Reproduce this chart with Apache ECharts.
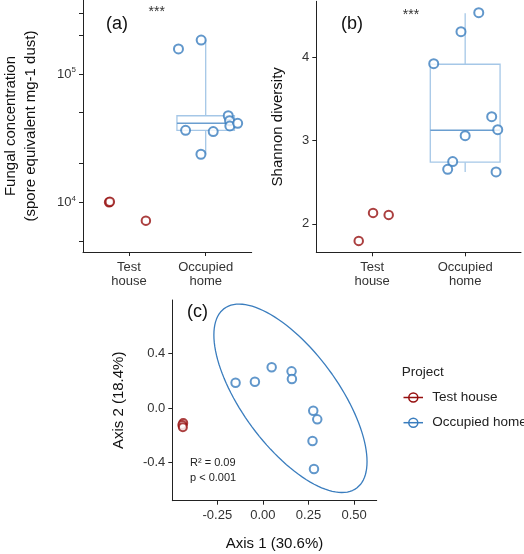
<!DOCTYPE html>
<html>
<head>
<meta charset="utf-8">
<script src="https://cdn.jsdelivr.net/npm/echarts@6/dist/echarts.min.js"></script>
<style>html,body{margin:0;padding:0;background:#fff;}#c{width:524px;height:554px;}</style>
</head>
<body>
<div id="c"></div>
<script>
// ---------- data ----------
const categories = ['Test\nhouse', 'Occupied\nhome'];
const groups = ['Test house', 'Occupied home'];

// (a) fungal concentration (spore equivalent / mg dust)
const fungalTest = [10000, 10100, 7200];
const fungalTestJitter = [0.74, 0.75, 1.22];
const fungalOcc = [157000, 184000, 36400, 35600, 23700, 47300, 43300, 39400, 41300];
const fungalOccJitter = [1.645, 1.941, 1.738, 2.098, 1.938, 2.294, 2.311, 2.315, 2.417];
const fungalOccBox = [23700, 36400, 41300, 47300, 184000]; // min, q1, median, q3, max
const fungalTicks = [10000, 100000];
const fungalMinorTicks = [5000, 10000, 20000, 50000, 100000, 200000, 300000];

// (b) Shannon diversity
const shannonTest = [1.795, 2.131, 2.107];
const shannonTestJitter = [0.856, 1.01, 1.178];
const shannonOcc = [4.535, 4.307, 3.923, 3.287, 3.131, 3.059, 2.747, 2.655, 2.623];
const shannonOccJitter = [2.146, 1.955, 1.662, 2.285, 2.35, 2.0, 1.866, 1.812, 2.332];
const shannonOccBox = [2.623, 2.74, 3.124, 3.916, 4.528];
const shannonTicks = [2, 3, 4];

// (c) ordination
const ordTestAxis1 = [-0.437, -0.442, -0.439];
const ordTestAxis2 = [-0.11, -0.125, -0.14];
const ordOccAxis1 = [-0.150, -0.044, 0.048, 0.157, 0.159, 0.276, 0.298, 0.272, 0.280];
const ordOccAxis2 = [0.185, 0.192, 0.298, 0.268, 0.212, -0.020, -0.083, -0.241, -0.446];
const ordTicksX = [-0.25, 0, 0.25, 0.5];
const ordTicksY = [-0.4, 0, 0.4];
// ellipse of occupied homes: centre and shape (Cholesky factor)
const ellipseCenter = [0.151, 0.071];
const ellipseShape = [[0.42, 0], [-0.463, 0.5104]];
const statsText = ['R² = 0.09', 'p < 0.001'];

// ---------- styles ----------
const RED = '#960F0F';
const BLUE = '#3A7DBE';
const BOX = '#A5C7E7';
const MED = '#6A9ED0';
const FONT = 'Liberation Sans, Arial, sans-serif';
const AX = '#222';

const zip = (xs, ys) => xs.map((x, i) => [x, ys[i]]);

function ellipsePts() {
  const pts = [];
  const n = 120;
  for (let i = 0; i <= n; i++) {
    const t = 2 * Math.PI * i / n;
    const c = Math.cos(t), s = Math.sin(t);
    pts.push([
      ellipseCenter[0] + ellipseShape[0][0] * c + ellipseShape[0][1] * s,
      ellipseCenter[1] + ellipseShape[1][0] * c + ellipseShape[1][1] * s
    ]);
  }
  return pts;
}

function renderBox(params, api) {
  const x = api.value(0);
  const vals = [1, 2, 3, 4, 5].map(i => api.value(i));
  const L = api.coord([x - 0.375, vals[2]])[0];
  const R = api.coord([x + 0.375, vals[2]])[0];
  const cx = api.coord([x, vals[2]])[0];
  const y = vals.map(v => api.coord([x, v])[1]);
  return {
    type: 'group',
    children: [
      { type: 'line', shape: { x1: cx, y1: y[0], x2: cx, y2: y[1] }, style: { stroke: BOX, lineWidth: 1.3 } },
      { type: 'line', shape: { x1: cx, y1: y[3], x2: cx, y2: y[4] }, style: { stroke: BOX, lineWidth: 1.3 } },
      { type: 'rect', shape: { x: L, y: y[3], width: R - L, height: y[1] - y[3] }, style: { stroke: BOX, fill: 'rgba(255,255,255,0.5)', lineWidth: 1.3 } },
      { type: 'line', shape: { x1: L, y1: y[2], x2: R, y2: y[2] }, style: { stroke: MED, lineWidth: 1.6 } }
    ]
  };
}

const axisLineStyle = { show: true, onZero: false, lineStyle: { color: AX, width: 1 } };
const tickStyle = { show: true, length: 4, lineStyle: { color: AX, width: 1 } };
const labelStyle = { color: '#333', fontSize: 13, fontFamily: FONT };
const nameStyle = { color: '#111', fontSize: 15, fontFamily: FONT };
const catFormatter = v => (Math.abs(v - 1) < 1e-6 ? categories[0] : categories[1]);

const option = {
  animation: false,
  backgroundColor: '#fff',
  grid: [
    { left: 79, top: 0, width: 172.7, height: 252 },
    { left: 316.3, top: 1.3, width: 204.7, height: 251 },
    { left: 172.3, top: 300, width: 204.4, height: 200.7 }
  ],
  xAxis: [
    { gridIndex: 0, type: 'value', min: 0.4, max: 2.6, splitLine: { show: false },
      axisLine: axisLineStyle, axisTick: Object.assign({ customValues: [1, 2] }, tickStyle),
      axisLabel: Object.assign({ customValues: [1, 2], formatter: catFormatter, lineHeight: 14, margin: 8 }, labelStyle) },
    { gridIndex: 1, type: 'value', min: 0.4, max: 2.6, splitLine: { show: false },
      axisLine: axisLineStyle, axisTick: Object.assign({ customValues: [1, 2] }, tickStyle),
      axisLabel: Object.assign({ customValues: [1, 2], formatter: catFormatter, lineHeight: 14, margin: 8 }, labelStyle) },
    { gridIndex: 2, type: 'value', min: -0.497, max: 0.624, splitLine: { show: false },
      axisLine: axisLineStyle, axisTick: Object.assign({ customValues: ordTicksX }, tickStyle),
      axisLabel: Object.assign({ customValues: ordTicksX, formatter: v => v.toFixed(2), margin: 8 }, labelStyle),
      name: 'Axis 1 (30.6%)', nameLocation: 'middle', nameGap: 36, nameTextStyle: nameStyle }
  ],
  yAxis: [
    { gridIndex: 0, type: 'log', logBase: 10, min: 4100, max: 377600, splitLine: { show: false },
      axisLine: axisLineStyle, axisTick: Object.assign({ customValues: fungalMinorTicks }, tickStyle),
      axisLabel: Object.assign({ customValues: fungalTicks, margin: 7,
        formatter: v => '10{s|' + Math.round(Math.log10(v)) + '}',
        rich: { s: { fontSize: 8, color: '#333', fontFamily: FONT, verticalAlign: 'top', padding: [0, 0, 8, 0] } } }, labelStyle),
      name: 'Fungal concentration\n(spore equivalent mg-1 dust)', nameLocation: 'middle', nameGap: 42,
      nameTextStyle: Object.assign({ lineHeight: 20 }, nameStyle) },
    { gridIndex: 1, type: 'value', min: 1.658, max: 4.672, splitLine: { show: false },
      axisLine: axisLineStyle, axisTick: Object.assign({ customValues: shannonTicks }, tickStyle),
      axisLabel: Object.assign({ customValues: shannonTicks, margin: 7 }, labelStyle),
      name: 'Shannon diversity', nameLocation: 'middle', nameGap: 31, nameTextStyle: nameStyle },
    { gridIndex: 2, type: 'value', min: -0.678, max: 0.79, splitLine: { show: false },
      axisLine: axisLineStyle, axisTick: Object.assign({ customValues: ordTicksY }, tickStyle),
      axisLabel: Object.assign({ customValues: ordTicksY, formatter: v => v.toFixed(1), margin: 7 }, labelStyle),
      name: 'Axis 2 (18.4%)', nameLocation: 'middle', nameGap: 46, nameTextStyle: nameStyle }
  ],
  series: [
    { type: 'custom', xAxisIndex: 0, yAxisIndex: 0, renderItem: renderBox, data: [[2].concat(fungalOccBox)], z: 1 },
    { type: 'custom', xAxisIndex: 1, yAxisIndex: 1, renderItem: renderBox, data: [[2].concat(shannonOccBox)], z: 1 },
    { name: groups[0], type: 'scatter', xAxisIndex: 0, yAxisIndex: 0, data: zip(fungalTestJitter, fungalTest),
      symbol: 'emptyCircle', symbolSize: 8.5, itemStyle: { color: RED, borderColor: RED, borderWidth: 2 }, z: 3 },
    { name: groups[1], type: 'scatter', xAxisIndex: 0, yAxisIndex: 0, data: zip(fungalOccJitter, fungalOcc),
      symbol: 'emptyCircle', symbolSize: 9, itemStyle: { color: BLUE, borderColor: BLUE, borderWidth: 2 }, z: 3 },
    { name: groups[0], type: 'scatter', xAxisIndex: 1, yAxisIndex: 1, data: zip(shannonTestJitter, shannonTest),
      symbol: 'emptyCircle', symbolSize: 8.5, itemStyle: { color: RED, borderColor: RED, borderWidth: 1.6 }, z: 3 },
    { name: groups[1], type: 'scatter', xAxisIndex: 1, yAxisIndex: 1, data: zip(shannonOccJitter, shannonOcc),
      symbol: 'emptyCircle', symbolSize: 9, itemStyle: { color: BLUE, borderColor: BLUE, borderWidth: 2 }, z: 3 },
    { type: 'line', xAxisIndex: 2, yAxisIndex: 2, data: ellipsePts(), showSymbol: false, symbol: 'none',
      lineStyle: { color: BLUE, width: 1.3 }, z: 2, silent: true },
    { name: groups[0], type: 'scatter', xAxisIndex: 2, yAxisIndex: 2, data: zip(ordTestAxis1, ordTestAxis2),
      symbol: 'emptyCircle', symbolSize: 8, itemStyle: { color: RED, borderColor: RED, borderWidth: 1.6 }, z: 3 },
    { name: groups[1], type: 'scatter', xAxisIndex: 2, yAxisIndex: 2, data: zip(ordOccAxis1, ordOccAxis2),
      symbol: 'emptyCircle', symbolSize: 8.5, itemStyle: { color: BLUE, borderColor: BLUE, borderWidth: 1.5 }, z: 3 }
  ],
  graphic: [
    { type: 'text', x: 117, y: 24, style: { text: '(a)', fontSize: 18, fontFamily: FONT, fill: '#111', align: 'center', verticalAlign: 'middle' } },
    { type: 'text', x: 156.7, y: 5, style: { text: '***', fontSize: 14, fontFamily: FONT, fill: '#333', align: 'center', verticalAlign: 'top' } },
    { type: 'text', x: 352, y: 24, style: { text: '(b)', fontSize: 18, fontFamily: FONT, fill: '#111', align: 'center', verticalAlign: 'middle' } },
    { type: 'text', x: 411, y: 8, style: { text: '***', fontSize: 14, fontFamily: FONT, fill: '#333', align: 'center', verticalAlign: 'top' } },
    { type: 'text', x: 197.5, y: 311.7, style: { text: '(c)', fontSize: 18, fontFamily: FONT, fill: '#111', align: 'center', verticalAlign: 'middle' } },
    { type: 'text', x: 190, y: 462.7, style: { text: statsText[0], fontSize: 11, fontFamily: FONT, fill: '#222', align: 'left', verticalAlign: 'middle' } },
    { type: 'text', x: 190, y: 477.7, style: { text: statsText[1], fontSize: 11, fontFamily: FONT, fill: '#222', align: 'left', verticalAlign: 'middle' } },
    // legend
    { type: 'text', x: 401.7, y: 372.5, style: { text: 'Project', fontSize: 13.5, fontFamily: FONT, fill: '#222', align: 'left', verticalAlign: 'middle' } },
    { type: 'line', shape: { x1: 403.5, y1: 397.5, x2: 423, y2: 397.5 }, style: { stroke: RED, lineWidth: 1.5 } },
    { type: 'circle', shape: { cx: 413.3, cy: 397.5, r: 4.5 }, style: { stroke: RED, fill: 'none', lineWidth: 1.5 } },
    { type: 'text', x: 432.3, y: 397.5, style: { text: groups[0], fontSize: 13.5, fontFamily: FONT, fill: '#222', align: 'left', verticalAlign: 'middle' } },
    { type: 'line', shape: { x1: 403.5, y1: 422.7, x2: 423, y2: 422.7 }, style: { stroke: BLUE, lineWidth: 1.5 } },
    { type: 'circle', shape: { cx: 413.3, cy: 422.7, r: 4.5 }, style: { stroke: BLUE, fill: 'none', lineWidth: 1.5 } },
    { type: 'text', x: 432.3, y: 422.7, style: { text: groups[1], fontSize: 13.5, fontFamily: FONT, fill: '#222', align: 'left', verticalAlign: 'middle' } }
  ]
};

const chart = echarts.init(document.getElementById('c'), null, { renderer: 'canvas' });
chart.setOption(option);
</script>
</body>
</html>
